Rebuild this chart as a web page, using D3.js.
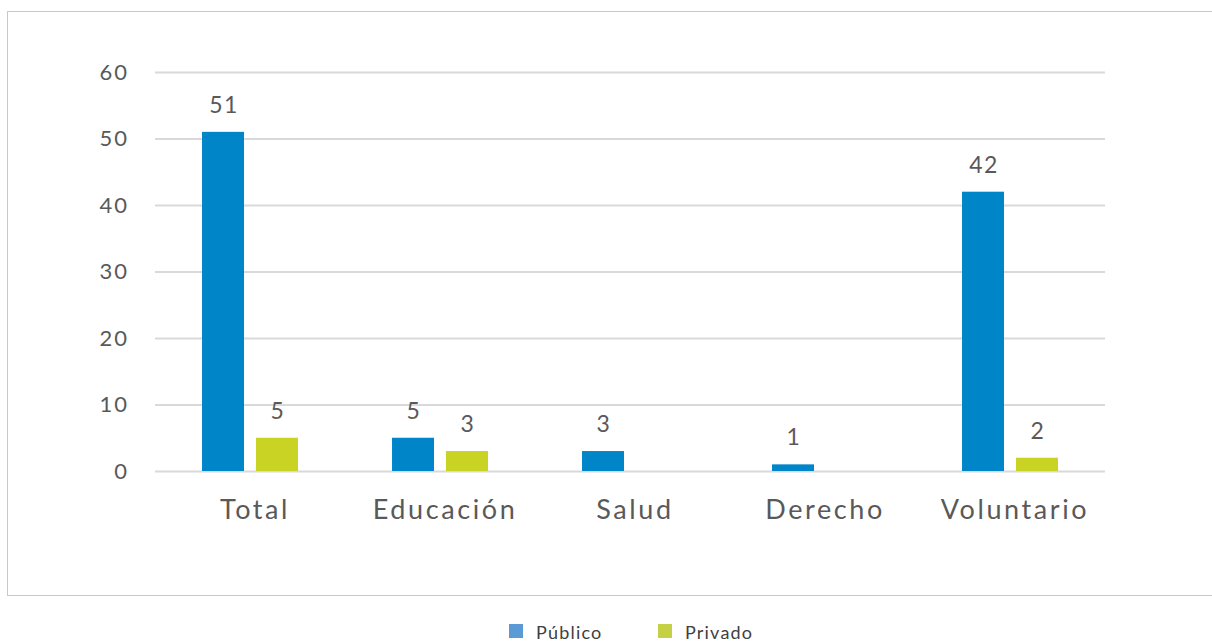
<!DOCTYPE html>
<html><head><meta charset="utf-8">
<script src="https://cdn.jsdelivr.net/npm/d3@7"></script>
<style>body{margin:0;background:#fff}svg{display:block}</style>
</head><body>
<svg id="c" width="1212" height="642"></svg>
<script>
const categories = ["Total","Educación","Salud","Derecho","Voluntario"];
const series = ["Público","Privado"];
const publico = [51,5,3,1,42];
const privado = [5,3,0,0,2];
const yTicks = [0,10,20,30,40,50,60];

const barColors = {"Público":"#0086C8","Privado":"#C9D324"};
const legendColors = {"Público":"#5B9BD5","Privado":"#C5D045"};
const font = "Lato, 'Open Sans', sans-serif";

const svg = d3.select("#c");
svg.append("rect").attr("x",7.5).attr("y",11.5).attr("width",1210).attr("height",584)
  .attr("fill","#fff").attr("stroke","#c8c8c8").attr("stroke-width",1);

const x0 = d3.scaleBand().domain(categories).range([155,1105]).paddingInner(0.495).paddingOuter(0.2475);
const x1 = d3.scaleBand().domain(series).range([0,x0.bandwidth()]).paddingInner(0.222);
const y = d3.scaleLinear().domain([0,60]).range([471,72]);

const yAxis = d3.axisLeft(y).tickValues(yTicks).tickSize(-950).tickPadding(26);
const gy = svg.append("g").attr("transform","translate(155,0)").call(yAxis);
gy.select(".domain").remove();
gy.selectAll(".tick line").attr("stroke","#d9d9d9").attr("stroke-width",2);
gy.selectAll(".tick text").attr("fill","#595959").attr("font-size",22).attr("font-family",font)
  .attr("letter-spacing","2px");

const data = categories.map((c,i)=>({cat:c, vals:[{s:"Público",v:publico[i]},{s:"Privado",v:privado[i]}]}));
const g = svg.append("g").selectAll("g").data(data).join("g")
  .attr("transform",d=>`translate(${x0(d.cat)},0)`);
g.selectAll("rect").data(d=>d.vals.filter(e=>e.v>0)).join("rect")
  .attr("x",d=>x1(d.s)).attr("width",x1.bandwidth())
  .attr("y",d=>y(d.v)).attr("height",d=>y(0)-y(d.v))
  .attr("fill",d=>barColors[d.s]);
g.selectAll("text").data(d=>d.vals.filter(e=>e.v>0)).join("text")
  .attr("x",d=>x1(d.s)+x1.bandwidth()/2+1).attr("y",d=>y(d.v)-19)
  .attr("text-anchor","middle").attr("fill","#595959").attr("font-size",23).attr("font-family",font)
  .attr("letter-spacing","1.5px")
  .text(d=>d.v);

const xAxis = d3.axisBottom(x0).tickSize(0).tickPadding(30);
const gx = svg.append("g").attr("transform","translate(0,471)").call(xAxis);
gx.select(".domain").remove();
gx.selectAll(".tick text").attr("fill","#595959").attr("font-size",27).attr("font-family",font)
  .attr("letter-spacing","2.6px")
  .attr("dy","0.71em").attr("y",29).attr("dx",5);

const legendX = [509,658];
const lg = svg.append("g").selectAll("g").data(series).join("g")
  .attr("transform",(d,i)=>`translate(${legendX[i]},624)`);
lg.append("rect").attr("width",14).attr("height",14).attr("fill",d=>legendColors[d]);
lg.append("text").attr("x",27).attr("y",15).attr("fill","#404040").attr("font-size",18)
  .attr("letter-spacing","1.2px")
  .attr("font-family",font).text(d=>d);
</script>
</body></html>
